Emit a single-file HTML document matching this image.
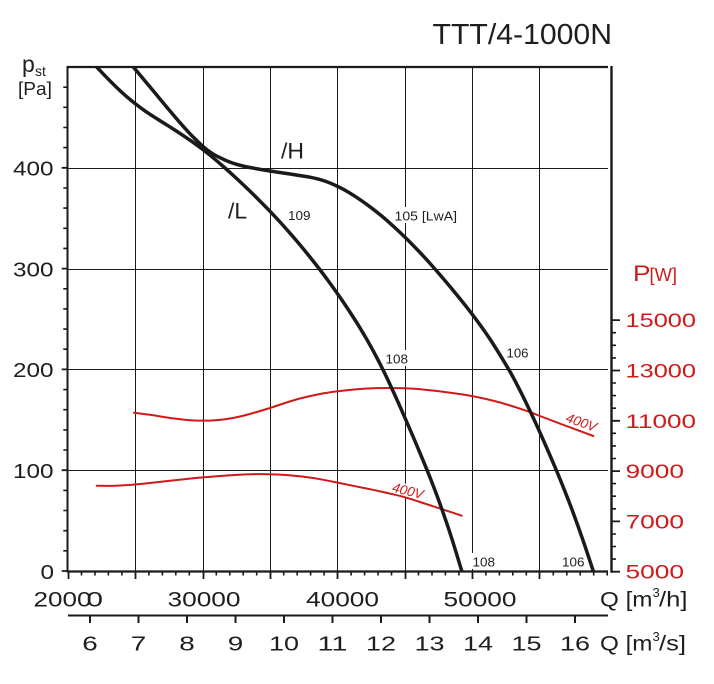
<!DOCTYPE html>
<html><head><meta charset="utf-8"><style>
html,body{margin:0;padding:0;background:#fff;}
svg{display:block;}
text{font-family:"Liberation Sans",Arial,sans-serif;fill:#1e1e1e;}
.r{fill:#cf1a1a;}
</style></head><body>
<svg width="714" height="684" viewBox="0 0 714 684" xmlns="http://www.w3.org/2000/svg">
<defs><clipPath id="pc"><rect x="68" y="67" width="545" height="505"/></clipPath></defs>
<rect width="714" height="684" fill="#fff"/>

<!-- grid -->
<g stroke="#1a1a1a" stroke-width="1" shape-rendering="crispEdges" fill="none">
<path d="M68 470.5H608M68 369.5H608M68 269.5H608M68 168.5H608"/>
<path d="M135.5 67V579M203.5 67V579M270.5 67V579M337.5 67V579M405.5 67V579M472.5 67V579M539.5 67V579M68.5 571V579"/>
</g>

<!-- white label backgrounds -->
<g fill="#fff">
<rect x="393" y="207" width="65" height="16"/>
<rect x="384" y="350" width="26" height="16"/>
<rect x="471" y="553" width="26" height="16"/>
<rect x="-1" y="-11" width="34" height="13" transform="translate(391.5,491.5) rotate(14)"/>
</g>

<!-- frame / axes -->
<g stroke="#1a1a1a" fill="none">
<path d="M67 67H608" stroke-width="2.2"/>
<path d="M67.5 66V572.5" stroke-width="2"/>
<path d="M67 571.5H608" stroke-width="2.2"/>
<path d="M611.5 66V572.7" stroke-width="2.4"/>
<path d="M68 615.5H608" stroke-width="2"/>
</g>

<!-- ticks -->
<g stroke="#1a1a1a" fill="none">
<path stroke-width="1.6" d="M81.5 571v4.5M95 571v4.5M108.4 571v4.5M121.9 571v4.5M148.9 571v4.5M162.4 571v4.5M175.8 571v4.5M189.3 571v4.5M216.3 571v4.5M229.8 571v4.5M243.2 571v4.5M256.7 571v4.5M283.7 571v4.5M297.2 571v4.5M310.6 571v4.5M324.1 571v4.5M351.1 571v4.5M364.6 571v4.5M378 571v4.5M391.5 571v4.5M418.5 571v4.5M432 571v4.5M445.4 571v4.5M458.9 571v4.5M485.9 571v4.5M499.4 571v4.5M512.8 571v4.5M526.3 571v4.5M553.3 571v4.5M566.8 571v4.5M580.2 571v4.5M593.7 571v4.5M607.2 571v4.5"/>
<path stroke-width="1.8" d="M135.5 571v8M203.5 571v8M270.5 571v8M337.5 571v8M405.5 571v8M472.5 571v8M539.5 571v8M68.5 571v8"/>
<path stroke-width="1.6" d="M63.3 550.8H68M63.3 530.7H68M63.3 510.5H68M63.3 490.4H68M63.3 450H68M63.3 429.9H68M63.3 409.7H68M63.3 389.6H68M63.3 349.2H68M63.3 329.1H68M63.3 308.9H68M63.3 288.8H68M63.3 248.4H68M63.3 228.3H68M63.3 208.1H68M63.3 188H68M63.3 147.6H68M63.3 127.5H68M63.3 107.3H68M63.3 87.2H68"/>
<path stroke-width="1.8" d="M61.7 571H68M61.7 470.2H68M61.7 369.4H68M61.7 268.6H68M61.7 167.8H68"/>
<path stroke-width="1.6" d="M611 559.1h5M611 546.5h5M611 534h5M611 508.8h5M611 496.2h5M611 483.6h5M611 458.5h5M611 445.9h5M611 433.3h5M611 408.2h5M611 395.6h5M611 383h5M611 357.9h5M611 345.3h5M611 332.7h5"/>
<path stroke-width="1.8" d="M611 571.7h9M611 521.4h9M611 471.1h9M611 420.8h9M611 370.5h9M611 320.1h9"/>
<path stroke-width="2" d="M90 615.5v7.5M138.5 615.5v7.5M187 615.5v7.5M235.5 615.5v7.5M284 615.5v7.5M332.5 615.5v7.5M381 615.5v7.5M429.5 615.5v7.5M478 615.5v7.5M526.5 615.5v7.5M575 615.5v7.5"/>
</g>

<!-- curves -->
<g clip-path="url(#pc)" fill="none" stroke-linecap="round" stroke-linejoin="round">
<path class="sm" stroke="#cf1a1a" stroke-width="2" d="M134,412.7 L150,414.8 L170,418 L190,420.2 L210,420.6 L225,419.3 L240,416.5 L255,412.5 L270,408 L285,403 L300,398.5 L320,394 L338,391.3 L360,389 L385,388 L405,388.3 L425,389.7 L445,392 L471.7,396 L500,402.5 L528.3,411.5 L540,416 L565,425.5 L593.3,436"/>
<path class="sm" stroke="#cf1a1a" stroke-width="2" d="M96.7,485.7 L115,485.8 L135,484.5 L150,483 L170,480.8 L190,478.6 L203,477.4 L220,476 L235,475 L250,474.3 L263,474.1 L280,474.6 L300,476.3 L320,479.2 L338,482.7 L355,486.2 L370,489.2 L390,493.6 L405,497.3 L420,502 L440,508.5 L461.7,515.7"/>
<path class="sm" stroke="#1a1a1a" stroke-width="3.5" d="M127,60 L133.3,67 L145,81 L156.7,95 L168,108.6 L180,122.7 L192,135.9 L203,146.4 L210,151.9 L217,156.2 L230,162.1 L243,166 L256,168.6 L270,171 L290,174 L310,177.2 L325,181.1 L340,187.6 L355,196.3 L370,206.8 L385,218.8 L405,237.2 L420,252.5 L433.3,267.1 L452,289 L472.7,314.9 L490,339.1 L508.3,368.7 L518,386.6 L528.3,407.4 L540,432.6 L556,469.4 L565,491.5 L573.3,513.1 L583,540.3 L593.3,571.2 L595,577"/>
<path class="sm" stroke="#1a1a1a" stroke-width="3.5" d="M90,60 L96.7,67 L106,76.8 L116.7,87.5 L125,95.2 L135,103.5 L145,110.9 L156.7,118.6 L168,125.7 L180,133.4 L192,141.6 L203.3,149.9 L213,157.7 L223.3,166.5 L235,177 L246.7,188 L258,199.1 L270,211.3 L280,222 L290,233.2 L300,244.9 L310,257.1 L319,268.5 L328,280.5 L337.7,294 L347,307.6 L357,323.1 L367,339.8 L377,358 L383.3,370.4 L393.3,391.6 L405,417.9 L416,443.5 L426.7,469.2 L434,487.8 L441.7,508.7 L451.5,537.6 L461.7,570.8 L463.5,577"/>
</g>

<!-- title & axis labels -->
<text x="432.5" y="44" font-size="29" textLength="179.5" lengthAdjust="spacingAndGlyphs">TTT/4-1000N</text>
<text x="22" y="72" font-size="23">p</text>
<text x="35" y="76" font-size="14">st</text>
<text x="18" y="95" font-size="18" textLength="34" lengthAdjust="spacingAndGlyphs">[Pa]</text>

<g font-size="20">
<text x="13" y="175.6" textLength="40.5" lengthAdjust="spacingAndGlyphs">400</text>
<text x="13" y="276.4" textLength="40.5" lengthAdjust="spacingAndGlyphs">300</text>
<text x="13" y="377.2" textLength="40.5" lengthAdjust="spacingAndGlyphs">200</text>
<text x="13" y="478" textLength="40.5" lengthAdjust="spacingAndGlyphs">100</text>
<text x="40.5" y="578.8" textLength="13.5" lengthAdjust="spacingAndGlyphs">0</text>
</g>

<g font-size="19" class="r">
<text class="r" x="625.5" y="327.1" textLength="70.5" lengthAdjust="spacingAndGlyphs">15000</text>
<text class="r" x="625.5" y="377.5" textLength="70.5" lengthAdjust="spacingAndGlyphs">13000</text>
<text class="r" x="625.5" y="427.8" textLength="70.5" lengthAdjust="spacingAndGlyphs">11000</text>
<text class="r" x="625.5" y="478.1" textLength="58.5" lengthAdjust="spacingAndGlyphs">9000</text>
<text class="r" x="625.5" y="528.4" textLength="58.5" lengthAdjust="spacingAndGlyphs">7000</text>
<text class="r" x="625.5" y="578.7" textLength="58.5" lengthAdjust="spacingAndGlyphs">5000</text>
</g>
<text class="r" x="633" y="281" font-size="22" textLength="17.5" lengthAdjust="spacingAndGlyphs">P</text>
<text class="r" x="649.5" y="281" font-size="18.5" textLength="27.5" lengthAdjust="spacingAndGlyphs">[W]</text>

<g font-size="21">
<text x="33.5" y="606.5" textLength="58" lengthAdjust="spacingAndGlyphs">2000</text>
<text x="86.5" y="606.5" textLength="16.5" lengthAdjust="spacingAndGlyphs">0</text>
<text x="167.5" y="606.5" textLength="73" lengthAdjust="spacingAndGlyphs">30000</text>
<text x="306" y="606.5" textLength="73" lengthAdjust="spacingAndGlyphs">40000</text>
<text x="443.5" y="606.5" textLength="73" lengthAdjust="spacingAndGlyphs">50000</text>
<text x="600" y="606.5" textLength="52.5" lengthAdjust="spacingAndGlyphs">Q [m</text>
<text x="659" y="606.5" textLength="28.5" lengthAdjust="spacingAndGlyphs">/h]</text>
<text x="600" y="650.5" textLength="52.5" lengthAdjust="spacingAndGlyphs">Q [m</text>
<text x="659" y="650.5" textLength="27" lengthAdjust="spacingAndGlyphs">/s]</text>
</g>
<text x="652.5" y="597" font-size="13">3</text>
<text x="652.5" y="641" font-size="13">3</text>

<g font-size="20">
<text x="82.25" y="650.5" textLength="15.5" lengthAdjust="spacingAndGlyphs">6</text>
<text x="130.75" y="650.5" textLength="15.5" lengthAdjust="spacingAndGlyphs">7</text>
<text x="179.25" y="650.5" textLength="15.5" lengthAdjust="spacingAndGlyphs">8</text>
<text x="227.75" y="650.5" textLength="15.5" lengthAdjust="spacingAndGlyphs">9</text>
<text x="269" y="650.5" textLength="30" lengthAdjust="spacingAndGlyphs">10</text>
<text x="317.5" y="650.5" textLength="30" lengthAdjust="spacingAndGlyphs">11</text>
<text x="366" y="650.5" textLength="30" lengthAdjust="spacingAndGlyphs">12</text>
<text x="414.5" y="650.5" textLength="30" lengthAdjust="spacingAndGlyphs">13</text>
<text x="463" y="650.5" textLength="30" lengthAdjust="spacingAndGlyphs">14</text>
<text x="511.5" y="650.5" textLength="30" lengthAdjust="spacingAndGlyphs">15</text>
<text x="560" y="650.5" textLength="30" lengthAdjust="spacingAndGlyphs">16</text>
</g>

<!-- curve labels -->
<text x="281" y="158.3" font-size="22" textLength="23" lengthAdjust="spacingAndGlyphs">/H</text>
<text x="228" y="218.3" font-size="22" textLength="19" lengthAdjust="spacingAndGlyphs">/L</text>
<g font-size="13">
<text x="288" y="220" textLength="22.5" lengthAdjust="spacingAndGlyphs">109</text>
<text x="394.5" y="220.5" textLength="62.5" lengthAdjust="spacingAndGlyphs">105 [LwA]</text>
<text x="385.5" y="363.3" textLength="22.5" lengthAdjust="spacingAndGlyphs">108</text>
<text x="506.5" y="357.7" textLength="22" lengthAdjust="spacingAndGlyphs">106</text>
<text x="472.5" y="566.7" textLength="22.5" lengthAdjust="spacingAndGlyphs">108</text>
<text x="562" y="566.7" textLength="22.5" lengthAdjust="spacingAndGlyphs">106</text>
</g>
<text class="r" font-size="13.5" font-style="italic" transform="translate(391.5,491.5) rotate(14)">400V</text>
<text class="r" font-size="13.5" font-style="italic" transform="translate(565,421.5) rotate(19)">400V</text>
</svg>
<script>
document.querySelectorAll('path.sm').forEach(function(p){
  var n=p.getAttribute('d').match(/-?[\d.]+/g).map(Number);
  var pts=[];for(var i=0;i<n.length;i+=2)pts.push([n[i],n[i+1]]);
  var d='M'+pts[0][0]+','+pts[0][1];
  for(var j=0;j<pts.length-1;j++){
    var p0=pts[j-1]||pts[j],p1=pts[j],p2=pts[j+1],p3=pts[j+2]||pts[j+1];
    var c1x=p1[0]+(p2[0]-p0[0])/6,c1y=p1[1]+(p2[1]-p0[1])/6,c2x=p2[0]-(p3[0]-p1[0])/6,c2y=p2[1]-(p3[1]-p1[1])/6;
    d+='C'+c1x.toFixed(2)+','+c1y.toFixed(2)+' '+c2x.toFixed(2)+','+c2y.toFixed(2)+' '+p2[0]+','+p2[1];
  }
  p.setAttribute('d',d);
});
</script>
</body></html>
